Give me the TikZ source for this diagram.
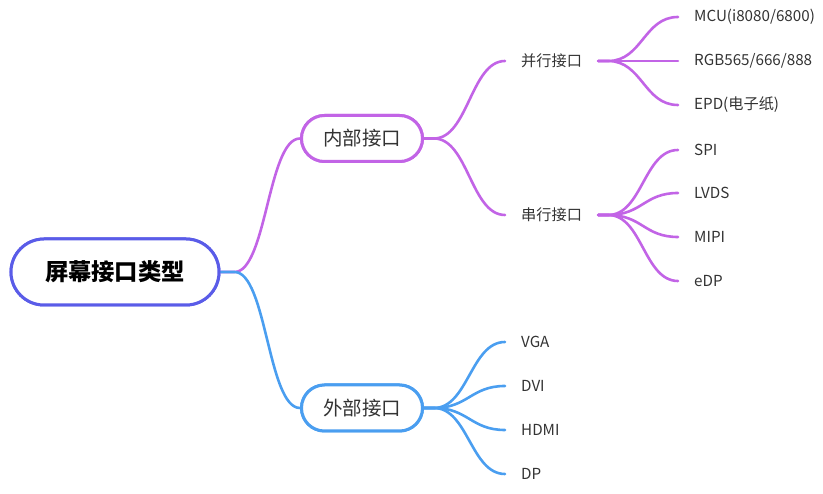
\documentclass[tikz,border=0pt]{standalone}
\usepackage{fontspec}
\setmainfont{Noto Sans CJK SC}
\definecolor{rootc}{HTML}{5A5CE8}
\definecolor{purp}{HTML}{C264E6}
\definecolor{bluec}{HTML}{4A9EF0}
\definecolor{txt}{HTML}{333333}
\begin{document}
\begin{tikzpicture}[x=1pt,y=-1pt,
  rootbox/.style={draw=rootc,line width=3pt,fill=white,minimum width=208pt,minimum height=66pt,rounded corners=33pt,font=\fontsize{23.3}{27}\selectfont\bfseries,text=black,inner sep=0pt},
  lvone/.style={draw=#1,line width=3pt,fill=white,minimum width=121pt,minimum height=46pt,rounded corners=23pt,font=\fontsize{19.5}{23}\selectfont,text=txt,inner sep=0pt},
  lvtwo/.style={anchor=west,inner xsep=16pt,inner ysep=2pt,font=\fontsize{15.2}{18}\selectfont,text=txt},
  leaf/.style={anchor=west,inner xsep=16pt,inner ysep=2pt,font=\fontsize{15.2}{18}\selectfont,text=txt},
  conn/.style={draw=#1,line width=2.6pt,line cap=round}
]
\useasboundingbox (0,0) rectangle (823,494);

\node[rootbox] (root) at (115,272) {屏幕接口类型};
\node[lvone=purp] (inner) at (362,138.5) {内部接口};
\node[lvone=bluec] (outer) at (362,408) {外部接口};

\node[lvtwo] (par) at (505,61) {并行接口};
\node[lvtwo] (ser) at (505,215) {串行接口};

\node[leaf] (mcu) at (678,17) {MCU(i8080/6800)};
\node[leaf] (rgb) at (678,61) {RGB565/666/888};
\node[leaf] (epd) at (678,105) {EPD(电子纸)};

\node[leaf] (spi) at (678,150) {SPI};
\node[leaf] (lvds) at (678,193) {LVDS};
\node[leaf] (mipi) at (678,237) {MIPI};
\node[leaf] (edp) at (678,281) {eDP};

\node[leaf] (vga) at (505,342) {VGA};
\node[leaf] (dvi) at (505,386) {DVI};
\node[leaf] (hdmi) at (505,430) {HDMI};
\node[leaf] (dp) at (505,474) {DP};

% root connectors
\draw[conn=purp] (root.east) -- ++(14,0) .. controls +(32,0) and +(-32,0) .. (inner.west);
\draw[conn=bluec] (root.east) -- ++(14,0) .. controls +(32,0) and +(-32,0) .. (outer.west);

% branch connectors
\foreach \t in {par,ser}
  \draw[conn=purp] (inner.east) -- ++(10,0) .. controls +(34,0) and +(-34,0) .. (\t.west);
\foreach \t in {mcu,rgb,epd}
  \draw[conn=purp] (par.east) -- ++(10,0) .. controls +(34,0) and +(-34,0) .. (\t.west);
\foreach \t in {spi,lvds,mipi,edp}
  \draw[conn=purp] (ser.east) -- ++(10,0) .. controls +(34,0) and +(-34,0) .. (\t.west);
\foreach \t in {vga,dvi,hdmi,dp}
  \draw[conn=bluec] (outer.east) -- ++(10,0) .. controls +(34,0) and +(-34,0) .. (\t.west);

% redraw node borders on top
\node[rootbox] at (root) {屏幕接口类型};
\node[lvone=purp] at (inner) {内部接口};
\node[lvone=bluec] at (outer) {外部接口};
\end{tikzpicture}
\end{document}
